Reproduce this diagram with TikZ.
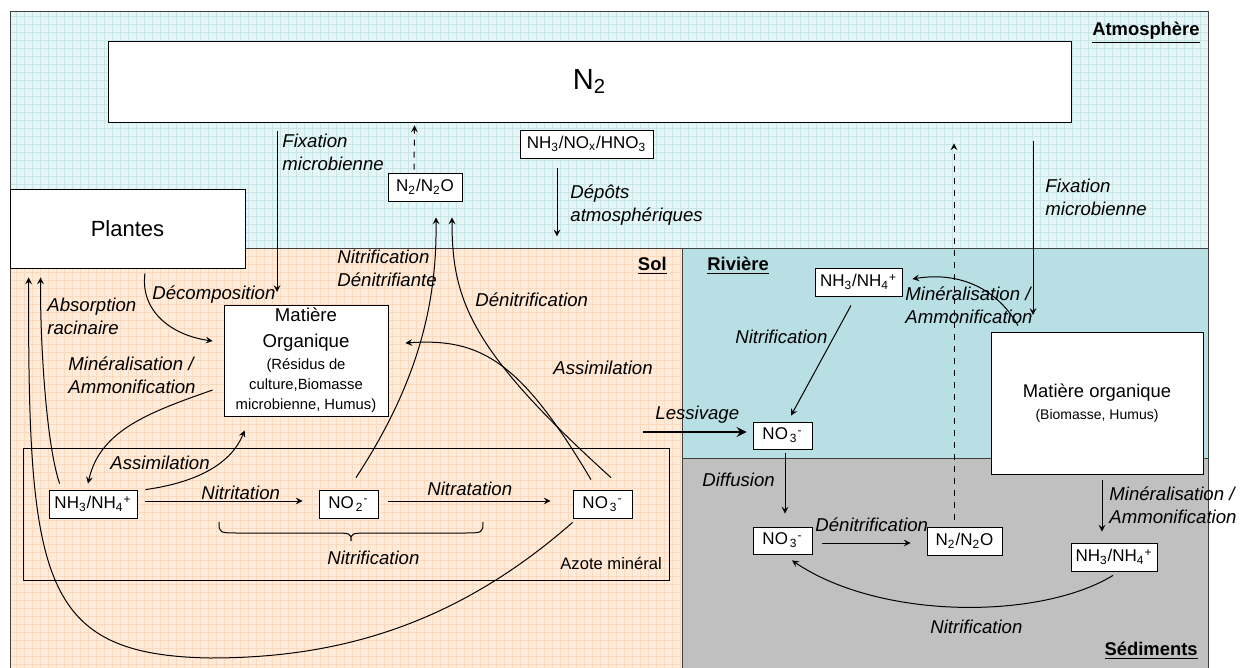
\documentclass[tikz,border=0pt]{standalone}
\usepackage{fontspec}
\setmainfont{Liberation Sans}
\usetikzlibrary{arrows, positioning, calc}

\definecolor{atmfond}{HTML}{E6F5F6}
\definecolor{atmgrille}{HTML}{C6E6E9}
\definecolor{solfond}{HTML}{FFEBDA}
\definecolor{solgrille}{HTML}{FCD9BC}
\definecolor{rivfond}{HTML}{B8DFE3}
\definecolor{sedfond}{HTML}{C0C0C0}

\newcommand{\ptexte}[1]{{\fontsize{7.4}{9}\selectfont #1}}

\tikzset{
  boite/.style={rectangle, draw, fill=white, text centered, inner sep=0pt, font=\fontsize{8.5}{10}\selectfont},
  etiq/.style={font=\fontsize{9.3}{11.5}\selectfont\itshape, align=left, inner sep=0pt, anchor=west},
  titre/.style={font=\fontsize{9.2}{11}\selectfont\bfseries, inner sep=0pt},
  flux/.style={->, >=stealth, line width=0.5pt},
}

\begin{document}
\begin{tikzpicture}[x=0.5pt, y=-0.5pt]
\useasboundingbox (0,0) rectangle (1246,668);

% Zones
\fill[atmfond] (10,11) rectangle (1208,248);
\draw[atmgrille, step=4pt] (10,11) grid (1208,248);
\fill[solfond] (10,248) rectangle (682,668);
\draw[solgrille, step=4pt] (10,248) grid (682,668);
\fill[rivfond] (682,248) rectangle (1208,458);
\fill[sedfond] (682,458) rectangle (1208,668);
\draw[black!75] (10,668) -- (10,11) -- (1208,11) -- (1208,668);
\draw[black!75] (10,248) -- (1208,248);
\draw[black!75] (682,248) -- (682,668);
\draw[black!75] (682,458) -- (1208,458);

% Boites
\node (n2) [boite, minimum width=481.5pt, minimum height=40.5pt, font=\fontsize{14.5}{17}\selectfont] at (589.5,81.5) {N\textsubscript{2}};
\node (plantes) [boite, minimum width=117.5pt, minimum height=39.5pt, font=\fontsize{11}{13}\selectfont] at (127.5,228.5) {Plantes};
\node (n2oatm) [boite, minimum width=37pt, minimum height=14pt] at (425,187) {N\textsubscript{2}/N\textsubscript{2}O};
\node (dep) [boite, minimum width=66.5pt, minimum height=14pt] at (586.5,144) {NH\textsubscript{3}/NO\textsubscript{x}/HNO\textsubscript{3}};
\node (azote) [draw, minimum width=323pt, minimum height=66pt, inner sep=0pt] at (346,514) {};
\node (nh4sol) [boite, minimum width=44pt, minimum height=14pt] at (93,504) {NH\textsubscript{3}/NH\textsubscript{4}\textsuperscript{+}};
\node (no2sol) [boite, minimum width=29.5pt, minimum height=14pt] at (348.5,504) {NO\textsubscript{\,2}\textsuperscript{-}};
\node (no3sol) [boite, minimum width=29.5pt, minimum height=14pt] at (602.5,504) {NO\textsubscript{\,3}\textsuperscript{-}};
\node (nh4riv) [boite, minimum width=43.5pt, minimum height=14pt] at (858.5,282) {NH\textsubscript{3}/NH\textsubscript{4}\textsuperscript{+}};
\node (no3riv) [boite, minimum width=29.5pt, minimum height=13.5pt] at (782.5,435.5) {NO\textsubscript{\,3}\textsuperscript{-}};
\node (no3sed) [boite, minimum width=29.5pt, minimum height=13.5pt] at (782.5,540.5) {NO\textsubscript{\,3}\textsuperscript{-}};
\node (n2osed) [boite, minimum width=37.5pt, minimum height=14pt] at (964.5,541) {N\textsubscript{2}/N\textsubscript{2}O};
\node (nh4sed) [boite, minimum width=43pt, minimum height=14pt] at (1114,557) {NH\textsubscript{3}/NH\textsubscript{4}\textsuperscript{+}};
\node (mosol) [boite, minimum width=82pt, minimum height=55.5pt, align=center, font=\fontsize{9.3}{13}\selectfont] at (306,360.5) {Matière\\Organique\\[-2pt]\ptexte{(Résidus de}\\[-3pt]\ptexte{culture,Biomasse}\\[-3pt]\ptexte{microbienne, Humus)}};
\node (moriv) [boite, minimum width=106pt, minimum height=71pt, align=center, font=\fontsize{9.2}{11}\selectfont] at (1097,403) {Matière organique\\{\fontsize{7}{9}\selectfont (Biomasse, Humus)}};

% Extremites libres
\coordinate (fixghaut) at (277,131);
\coordinate (fixgbas) at (277,292);
\coordinate (fixdhaut) at (1033,141);
\coordinate (fixdbas) at (1033,315);
\coordinate (lessdeb) at (643,432);
\coordinate (solbas) at (210,658);

% Fleches
\draw[flux] (fixghaut) -- (fixgbas);
\draw[flux, dashed] ($(n2oatm.north)+(-11,-3)$) -- ($(n2.south)+(-175,3)$);
\draw[flux] ($(dep.south)+(-29.5,10)$) -- ($(dep.south)+(-29.5,78)$);
\draw[flux, dashed] ($(n2osed.north)+(-10.5,-7)$) -- ($(n2.south)+(364.5,21)$);
\draw[flux] (fixdhaut) -- (fixdbas);
\draw[flux, line width=1.2pt] (lessdeb) -- ($(no3riv.west)+(-6,-3.5)$);
\draw[flux] ($(nh4riv.south)+(-7.5,9)$) -- ($(no3riv.north)+(8.5,-6)$);
\draw[flux] ($(moriv.north)+(-79,-6)$) .. controls (995,285) and (955,272) .. ($(nh4riv.east)+(10,-3)$);
\draw[flux] ($(no3riv.south)+(2.5,4)$) -- ($(no3sed.north)+(2.5,-13)$);
\draw[flux] ($(no3sed.east)+(10,2.5)$) -- ($(n2osed.west)+(-16,2)$);
\draw[flux] ($(moriv.south)+(5,6)$) -- ($(nh4sed.north)+(-12,-11)$);
\draw[flux] ($(nh4sed.south)+(-1,4)$) .. controls (1040,620) and (880,620) .. ($(no3sed.south)+(9.5,6)$);

\draw[flux] ($(plantes.south)+(17.5,5)$) .. controls (140,310) and (170,335) .. ($(mosol.west)+(-11,-19.5)$);
\draw[flux] ($(mosol.west)+(-11,29.5)$) .. controls (150,412) and (100,430) .. ($(nh4sol.north)+(-5,-6)$);
\draw[flux] ($(nh4sol.north east)+(8,0)$) .. controls (200,482) and (232,462) .. ($(mosol.south west)+(21,14)$);
\draw[flux] ($(nh4sol.north west)+(11,-6)$) .. controls (45,440) and (40,330) .. ($(plantes.south west)+(31,9)$);
\draw[flux] ($(no3sol.south west)+(0,4)$) .. controls (450,630) and (330,658) .. (solbas) .. controls (40,655) and (28,580) .. ($(plantes.south west)+(19,9)$);
\draw[flux] ($(no2sol.north)+(7.5,-12)$) .. controls (420,380) and (437,300) .. ($(n2oatm.south)+(11,16)$);
\draw[flux] ($(no3sol.north)+(8.5,-12)$) .. controls (470,350) and (452,300) .. ($(n2oatm.south)+(27,16)$);
\draw[flux] ($(no3sol.north)+(-11.5,-10)$) .. controls (520,360) and (480,338) .. ($(mosol.east)+(17,-17.5)$);
\draw[flux] ($(nh4sol.east)+(8,-3)$) -- ($(no2sol.west)+(-16,-3)$);
\draw[flux] ($(no2sol.east)+(10,-3)$) -- ($(no3sol.west)+(-22,-3)$);

% Accolade
\draw[line width=0.5pt] (219,522) .. controls (219,533) .. (240,533) -- (330,533) .. controls (351,533) .. (351,541) .. controls (351,533) .. (372,533) -- (462,533) .. controls (483,533) .. (483,522);

% Etiquettes
\node[etiq] at (282,152) {Fixation\\microbienne};
\node[etiq] at (570,205) {Dépôts\\atmosphériques};
\node[etiq] at (1045,197) {Fixation\\microbienne};
\node[titre, anchor=east] at (1200,33) {\underline{Atmosphère}};
\node[titre, anchor=east] at (667,266) {\underline{Sol}};
\node[titre, anchor=west] at (707,266) {\underline{Rivière}};
\node[titre, anchor=east] at (1198,651) {\underline{Sédiments}};
\node[etiq] at (47,316) {Absorption\\racinaire};
\node[etiq] at (152,295) {Décomposition};
\node[etiq] at (68,375) {Minéralisation /\\Ammonification};
\node[etiq] at (337,268) {Nitrification\\Dénitrifiante};
\node[etiq] at (475,300) {Dénitrification};
\node[etiq] at (553,368) {Assimilation};
\node[etiq] at (655,415) {Lessivage};
\node[etiq] at (735,337) {Nitrification};
\node[etiq] at (905,305) {Minéralisation /\\Ammonification};
\node[etiq] at (110,463) {Assimilation};
\node[etiq] at (201,493) {Nitritation};
\node[etiq] at (427,489) {Nitratation};
\node[etiq] at (327,558) {Nitrification};
\node[anchor=west, inner sep=0pt, font=\fontsize{8.3}{10}\selectfont] at (560,563) {Azote minéral};
\node[etiq] at (702,480) {Diffusion};
\node[etiq] at (815,525) {Dénitrification};
\node[etiq] at (1109,505) {Minéralisation /\\Ammonification};
\node[etiq] at (930,627) {Nitrification};
\end{tikzpicture}
\end{document}
